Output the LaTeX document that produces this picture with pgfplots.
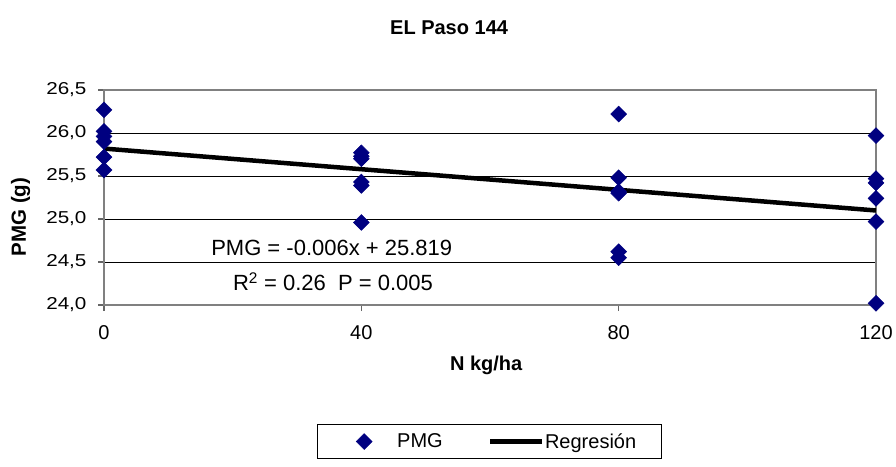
\documentclass[border=0pt]{standalone}
\usepackage{pgfplots}
\pgfplotsset{compat=1.18}
\usepackage{fontspec}
\setmainfont{Liberation Sans}
\newfontfamily\yfont{Liberation Sans}[FakeStretch=1.2]
\definecolor{navyblue}{RGB}{0,0,128}
\definecolor{axgray}{RGB}{128,128,128}
\begin{document}
\begin{tikzpicture}
\useasboundingbox (0,0) rectangle (896pt,466pt);
\begin{axis}[
  at={(104pt,161pt)}, anchor=south west,
  scale only axis, width=772pt, height=215pt,
  xmin=0, xmax=120, ymin=24, ymax=26.5,
  clip=false,
  xtick={0,40,80,120},
  ytick={24,24.5,25,25.5,26,26.5},
  yticklabels={{24,0},{24,5},{25,0},{25,5},{26,0},{26,5}},
  ymajorgrids, grid style={black, line width=0.8pt},
  axis line style={axgray, line width=2pt},
  tick style={black!60, line width=1.2pt},
  tick align=outside, major tick length=6pt,
  xtick pos=left, ytick pos=left,
  /pgf/number format/assume math mode=true,
  xticklabel style={font=\fontsize{20}{24}\selectfont, yshift=-11pt},
  yticklabel style={font=\yfont\fontsize{17.2}{20}\selectfont, xshift=-8pt},
  title={EL Paso 144},
  title style={at={(axis description cs:0.447,1.26)}, anchor=center, font=\bfseries\fontsize{20}{24}\selectfont},
  xlabel={N kg/ha},
  xlabel style={at={(axis description cs:0.495,-0.28)}, anchor=center, font=\bfseries\fontsize{20}{24}\selectfont},
  ylabel={PMG (g)},
  ylabel style={at={(axis description cs:-0.108,0.409)}, anchor=center, font=\bfseries\fontsize{20.5}{24}\selectfont},
  legend columns=2,
  legend style={draw=black, line width=1pt, fill=white,
    font=\fontsize{20}{24}\selectfont,
    inner xsep=25pt, inner ysep=9pt, nodes={inner sep=0pt},
    /tikz/every even column/.append style={column sep=45pt},
    at={(axis description cs:0.499,-0.635)}, anchor=center},
]
\addplot[only marks, mark=square*, mark size=5.6pt,
  mark options={rotate=45, fill=navyblue, draw=navyblue, line width=0.5pt},
  legend image code/.code={\path[draw=none, mark=square*, mark size=5.6pt, mark options={rotate=45, fill=navyblue, draw=navyblue, line width=0.5pt}] plot coordinates {(22pt,0pt)}; \path[draw=none] (0pt,0pt) -- (55pt,0pt);}]
coordinates {
(0,26.27) (0,26.02) (0,25.96) (0,25.90) (0,25.72) (0,25.57)
(40,25.77) (40,25.73) (40,25.70) (40,25.43) (40,25.39) (40,24.96)
(80,26.22) (80,25.48) (80,25.32) (80,25.30) (80,24.62) (80,24.55)
(120,25.97) (120,25.47) (120,25.42) (120,25.24) (120,24.97) (120,24.02)
};
\addlegendentry{PMG}
\addplot[black, line width=4.5pt, no marks,
  legend image code/.code={\draw[black, line width=4.5pt] (0pt,0pt) -- (52pt,0pt); \path[draw=none] (0pt,0pt) -- (55pt,0pt);}]
coordinates {(0,25.819) (120,25.099)};
\addlegendentry{Regresión}
\node[font=\fontsize{22}{26}\selectfont] at (axis cs:35.4,24.66) {PMG = -0.006x + 25.819};
\node[font=\fontsize{22}{26}\selectfont] at (axis cs:35.6,24.27) {R\textsuperscript{2} = 0.26\ \ P = 0.005};
\end{axis}
\end{tikzpicture}
\end{document}
